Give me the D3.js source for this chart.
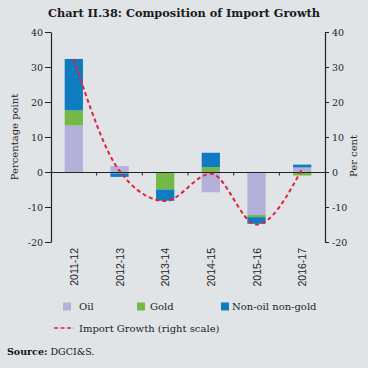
<!DOCTYPE html>
<html><head><meta charset="utf-8">
<script src="https://cdn.jsdelivr.net/npm/d3@7"></script>
<style>
html,body{margin:0;padding:0;background:#e1e4e7;}
svg{display:block;}
</style></head>
<body>
<svg id="c" width="368" height="368"></svg>
<script>
const categories = ["2011-12","2012-13","2013-14","2014-15","2015-16","2016-17"];
const oil = [13.3, 1.7, 0.0, -5.8, -12.3, 1.3];
const gold = [4.3, -0.4, -5.0, 1.4, -0.6, -1.0];
const nonOilNonGold = [14.7, -1.0, -3.2, 4.1, -1.9, 0.8];
const importGrowth = [32.3, 0.3, -8.3, -0.5, -15.0, 0.9];
const yTicks = [40, 30, 20, 10, 0, -10, -20];

const seriesNames = ["Oil","Gold","Non-oil non-gold"];
const colors = ["#b4b0da","#74b947","#0f7bc1"];
const lineColor = "#e0233c";

const svg = d3.select("#c");
const m = {l:51, r:325, t:32, b:242};

const x = d3.scaleBand().domain(categories).range([m.l, m.r]).paddingInner(0.6).paddingOuter(0.3);
const xb = d3.scaleBand().domain(categories).range([m.l, m.r]);
const y = d3.scaleLinear().domain([-20, 40]).range([m.b, m.t]);
const y2 = d3.scaleLinear().domain([-20, 40]).range([m.b, m.t]);
const fmt = d => String(d);

// title
svg.append("text").attr("x", 184).attr("y", 17).attr("text-anchor","middle")
  .attr("font-family","DejaVu Serif").attr("font-weight","bold").attr("font-size",11.3)
  .attr("fill","#1a1a1a").text("Chart II.38: Composition of Import Growth");

// stacked data
const table = categories.map((c,i)=>({cat:c, "Oil":oil[i], "Gold":gold[i], "Non-oil non-gold":nonOilNonGold[i]}));
const stack = d3.stack().keys(seriesNames).offset(d3.stackOffsetDiverging);
const stacked = stack(table);

svg.append("g").selectAll("g").data(stacked).join("g")
  .attr("fill",(d,i)=>colors[i])
  .selectAll("rect").data(d=>d).join("rect")
  .attr("x", d=>x(d.data.cat)).attr("width", x.bandwidth())
  .attr("y", d=>y(Math.max(d[0],d[1])))
  .attr("height", d=>Math.abs(y(d[0])-y(d[1])));

// left axis
const gl = svg.append("g").attr("transform",`translate(${m.l},0)`)
  .call(d3.axisLeft(y).tickValues(yTicks).tickSize(6).tickSizeOuter(0).tickFormat(fmt));
// right axis
const gr = svg.append("g").attr("transform",`translate(${m.r},0)`)
  .call(d3.axisRight(y2).tickValues(yTicks).tickSize(4).tickSizeOuter(0).tickFormat(fmt));
[gl,gr].forEach(g=>{
  g.select(".domain").attr("stroke","#222").attr("stroke-width",1.2);
  g.selectAll(".tick line").attr("stroke","#222");
  g.selectAll(".tick text").attr("font-family","DejaVu Serif").attr("font-size",9.5).attr("fill","#222");
});
gl.selectAll(".tick text").attr("x",-8);
gr.selectAll(".tick text").attr("x",7);

// zero line + x ticks
const gx = svg.append("g").attr("transform",`translate(0,${y(0)})`)
  .call(d3.axisBottom(xb).tickValues([]).tickSizeOuter(0));
gx.select(".domain").attr("stroke","#222").attr("stroke-width",1.2);
gx.selectAll(".sep").data(categories.slice(1)).join("line").attr("class","sep")
  .attr("x1",d=>xb(d)).attr("x2",d=>xb(d)).attr("y1",0).attr("y2",3.5)
  .attr("stroke","#222");

// x labels
svg.append("g").selectAll("text").data(categories).join("text")
  .attr("transform",d=>`translate(${xb(d)+xb.bandwidth()/2+4},248) rotate(-90)`)
  .attr("text-anchor","end")
  .attr("font-family","Liberation Sans").attr("font-size",10.5).attr("fill","#222")
  .text(d=>d);

// axis titles
svg.append("text").attr("transform",`translate(18,137) rotate(-90)`).attr("text-anchor","middle")
  .attr("font-family","DejaVu Serif").attr("font-size",10).attr("fill","#222").text("Percentage point");
svg.append("text").attr("transform",`translate(357,156) rotate(-90)`).attr("text-anchor","middle")
  .attr("font-family","DejaVu Serif").attr("font-size",10).attr("fill","#222").text("Per cent");

// line
const line = d3.line().x((d,i)=>xb(categories[i])+xb.bandwidth()/2).y(d=>y2(d)).curve(d3.curveMonotoneX);
svg.append("path").datum(importGrowth).attr("d",line).attr("fill","none")
  .attr("stroke",lineColor).attr("stroke-width",2).attr("stroke-dasharray","4,3");

// legend
const lg = svg.append("g").attr("font-family","DejaVu Serif").attr("font-size",10).attr("fill","#222");
const legX = [63, 137, 221];
const legTX = [79, 150, 232];
seriesNames.forEach((n,i)=>{
  lg.append("rect").attr("x",legX[i]).attr("y",302.5).attr("width",8).attr("height",8).attr("fill",colors[i]);
  lg.append("text").attr("x",legTX[i]).attr("y",310).text(n);
});
lg.append("line").attr("x1",54).attr("x2",74).attr("y1",328).attr("y2",328)
  .attr("stroke",lineColor).attr("stroke-width",1.5).attr("stroke-dasharray","4,2.5");
lg.append("text").attr("x",79).attr("y",332).text("Import Growth (right scale)");

// source
const src = svg.append("text").attr("x",7).attr("y",355).attr("font-family","DejaVu Serif").attr("font-size",9.5).attr("fill","#111");
src.append("tspan").attr("font-weight","bold").text("Source:");
src.append("tspan").text(" DGCI&S.");
</script>
</body></html>
